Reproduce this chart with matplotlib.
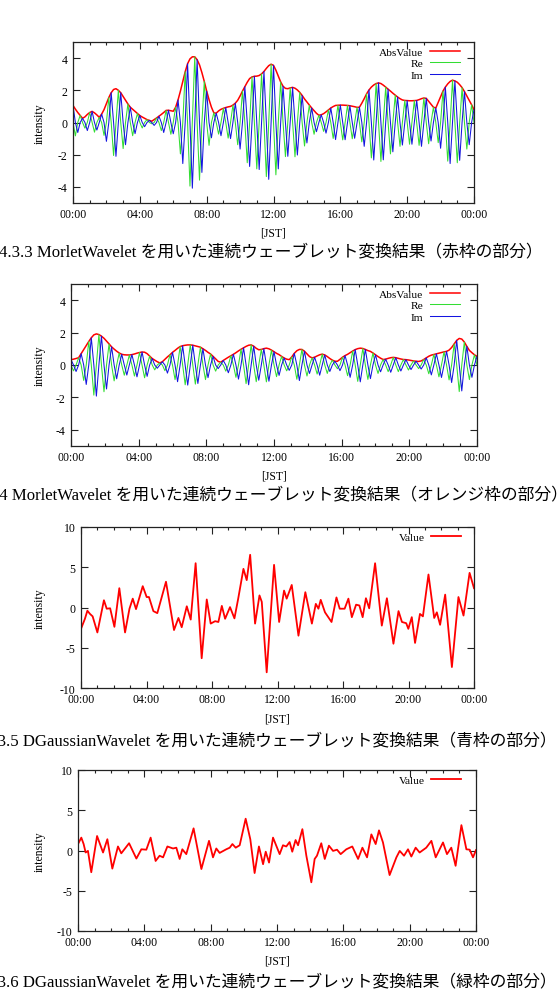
import matplotlib
matplotlib.use('Agg')
import matplotlib.pyplot as plt
import numpy as np
from matplotlib.ticker import MultipleLocator

plt.rcParams['font.family'] = ['Liberation Serif', 'Noto Sans CJK JP']
plt.rcParams['axes.unicode_minus'] = False

hour_ticks = [0, 4, 8, 12, 16, 20, 24]
hour_labels = ['00:00', '04:00', '08:00', '12:00', '16:00', '20:00', '00:00']

# Morlet, red frame: Im extrema every half period, Re extrema in between
m1_im = [1.06, -0.62, 0.26, -0.5, 0.69, -0.47, 0.52, -1.17, 1.85, -2.1, 1.85, -1.38, 0.95,
         -0.69, 0.43, -0.26, 0.13, -0.18, 0.39, -0.62, 0.76, -0.7, 1.4, -2.55, 3.65, -4.08,
         3.9, -3.1, 1.95, -0.95, 0.58, -0.82, 0.93, -1.0, 1.2, -1.65, 2.22, -2.73, 2.87,
         -2.92, 3.17, -3.53, 3.55, -2.88, 2.25, -2.1, 2.18, -2.02, 1.68, -1.27, 0.9, -0.57,
         0.48, -0.66, 0.9, -1.06, 1.08, -1.07, 1.04, -0.98, 0.95, -1.48, 2.02, -2.33, 2.46,
         -2.32, 2.07, -1.82, 1.58, -1.4, 1.36, -1.35, 1.37, -1.48, 1.5, -1.15, 0.9, -1.6,
         2.2, -2.55, 2.58, -2.35, 1.92, -1.38, 0.8]
m1_re = [-0.83, 0.44, -0.35, 0.62, -0.6, 0.32, -0.8, 1.55, -2.05, 2.0, -1.62, 1.15, -0.82,
         0.56, -0.34, 0.18, -0.08, 0.28, -0.5, 0.75, -0.73, 0.95, -1.95, 3.15, -3.95, 4.08,
         -3.58, 2.55, -1.42, 0.6, -0.72, 0.88, -0.97, 1.08, -1.38, 1.95, -2.5, 2.83, -2.88,
         3.02, -3.36, 3.62, -3.25, 2.52, -2.12, 2.15, -2.13, 1.87, -1.46, 1.07, -0.73, 0.45,
         -0.55, 0.78, -0.99, 1.07, -1.08, 1.06, -1.01, 0.94, -1.2, 1.78, -2.2, 2.42, -2.42,
         2.2, -1.95, 1.7, -1.48, 1.37, -1.35, 1.36, -1.42, 1.52, -1.32, 0.95, -1.25, 1.95,
         -2.4, 2.63, -2.5, 2.17, -1.65, 1.1]

# Morlet, orange frame
m2_im = [0.33, -0.4, 0.7, -1.2, 1.68, -1.92, 1.78, -1.48, 1.12, -0.85, 0.66, -0.62, 0.64,
         -0.73, 0.8, -0.7, 0.4, -0.2, 0.2, -0.5, 0.78, -1.03, 1.19, -1.24, 1.22, -1.14, 1.0,
         -0.78, 0.53, -0.22, 0.28, -0.48, 0.66, -0.87, 1.06, -1.22, 1.16, -0.94, 1.01, -1.0,
         0.82, -0.64, 0.43, -0.33, 0.72, -0.96, 0.85, -0.52, 0.48, -0.63, 0.62, -0.4, 0.23,
         -0.35, 0.58, -0.76, 0.95, -1.04, 0.96, -0.84, 0.63, -0.42, 0.36, -0.45, 0.45, -0.37,
         0.33, -0.28, 0.23, -0.25, 0.44, -0.61, 0.69, -0.77, 0.84, -1.08, 1.52, -1.6, 1.15,
         -0.76, 0.53]
m2_re = [-0.36, 0.45, -0.95, 1.45, -1.86, 1.88, -1.65, 1.3, -0.98, 0.74, -0.63, 0.62, -0.68,
         0.77, -0.79, 0.55, -0.3, 0.13, -0.35, 0.63, -0.9, 1.14, -1.22, 1.24, -1.18, 1.1, -0.9,
         0.68, -0.38, 0.17, -0.38, 0.57, -0.76, 0.97, -1.15, 1.24, -1.03, 0.96, -1.04, 0.92,
         -0.72, 0.53, -0.36, 0.5, -0.88, 0.96, -0.68, 0.44, -0.56, 0.67, -0.52, 0.3, -0.23,
         0.48, -0.66, 0.86, -1.01, 1.02, -0.89, 0.74, -0.52, 0.34, -0.41, 0.47, -0.41, 0.34,
         -0.31, 0.25, -0.22, 0.34, -0.54, 0.65, -0.73, 0.81, -0.92, 1.3, -1.64, 1.42, -0.9,
         0.63]

# DGaussian, blue frame
t3 = [0.0, 0.24, 0.39, 0.55, 0.71, 1.0, 1.4, 1.57, 1.78, 2.04, 2.34, 2.69, 2.96, 3.16, 3.36,
      3.77, 4.01, 4.15, 4.42, 4.66, 5.19, 5.68, 5.95, 6.15, 6.46, 6.7, 7.0, 7.37, 7.68, 7.92,
      8.19, 8.39, 8.6, 8.8, 9.1, 9.37, 9.6, 9.92, 10.12, 10.33, 10.63, 10.9, 11.04, 11.34,
      11.79, 12.1, 12.4, 12.56, 12.87, 13.28, 13.7, 14.1, 14.34, 14.5, 14.64, 14.9, 15.3,
      15.6, 15.8, 16.1, 16.33, 16.54, 16.8, 17.0, 17.2, 17.4, 17.6, 17.96, 18.37, 18.68,
      19.08, 19.39, 19.6, 19.86, 19.99, 20.2, 20.4, 20.7, 20.88, 21.22, 21.57, 21.73, 21.93,
      22.24, 22.65, 23.05, 23.36, 23.73, 24.0]
v3 = [-2.65, -1.4, -0.4, -0.8, -1.1, -3.1, 0.9, -0.15, -0.1, -2.4, 2.4, -3.1, -0.15, 1.1,
      -0.2, 2.65, 1.3, 1.3, -0.45, -0.7, 3.2, -2.8, -1.3, -2.45, 0.15, -1.5, 5.5, -6.3, 1.0,
      -2.0, -1.7, -1.8, 0.2, -1.4, 0.05, -1.35, 1.1, 4.8, 3.4, 6.55, -2.0, 1.5, 0.7, -8.05,
      5.3, -1.8, 2.1, 1.1, 2.8, -3.5, 1.9, -2.0, 0.45, -0.15, 0.95, -0.6, -1.8, 1.25, -0.15,
      -0.15, 1.1, -1.2, 0.35, 0.25, -1.2, 1.15, -0.1, 5.5, -2.25, 1.15, -4.5, -0.45, -1.8,
      -1.95, -2.65, -1.2, -4.4, -0.8, -1.1, 4.1, -1.3, -0.6, -2.15, 1.6, -7.4, 1.3, -1.0,
      4.3, 2.4]

# DGaussian, green frame
t4 = [0.0, 0.2, 0.34, 0.46, 0.6, 0.8, 1.15, 1.51, 1.77, 2.07, 2.41, 2.61, 3.08, 3.52, 3.82,
      4.12, 4.38, 4.68, 4.92, 5.13, 5.39, 5.73, 5.93, 6.13, 6.29, 6.53, 6.97, 7.44, 7.9,
      8.14, 8.34, 8.54, 8.94, 9.15, 9.31, 9.51, 9.75, 10.11, 10.39, 10.65, 10.91, 11.16,
      11.32, 11.52, 11.76, 12.16, 12.36, 12.56, 12.76, 12.92, 13.12, 13.27, 13.53, 13.77,
      14.07, 14.27, 14.41, 14.67, 14.88, 15.13, 15.38, 15.62, 15.84, 16.18, 16.54, 16.89,
      17.15, 17.43, 17.69, 17.95, 18.15, 18.39, 18.79, 19.2, 19.4, 19.66, 19.9, 20.1, 20.36,
      20.6, 21.0, 21.31, 21.57, 22.01, 22.25, 22.51, 22.77, 23.12, 23.42, 23.62, 23.82, 24.0]
v4 = [0.8, 1.6, 0.8, -0.25, -0.05, -2.7, 1.8, -0.25, 1.4, -2.25, 0.5, -0.35, 0.9, -1.0, 0.15,
      0.1, 1.6, -1.3, -0.65, -0.85, 0.5, 0.25, 0.35, -1.05, 0.15, -0.45, 2.75, -2.3, 1.2,
      -0.85, 0.25, -0.3, 0.15, 0.35, 0.8, 0.35, 0.65, 3.95, 1.4, -2.8, 0.5, -1.7, -0.15,
      -1.5, 1.6, -0.45, 0.65, 0.5, 1.05, -0.15, 1.3, 0.65, 2.65, -0.65, -3.95, -1.05, -0.65,
      0.9, -1.05, 0.6, -0.05, 0.1, -0.45, 0.15, 0.5, -1.05, 0.35, -0.85, 2.0, 0.8, 2.5, 1.0,
      -3.05, -0.85, -0.05, -0.65, 0.15, -0.75, 0.35, -0.25, 0.35, 1.2, -0.85, 1.0, -0.45,
      0.35, -1.9, 3.15, 0.15, 0.1, -0.85, 0.05]

captions = [
    '4.3.3 MorletWavelet を用いた連続ウェーブレット変換結果（赤枠の部分）',
    '4.3.4 MorletWavelet を用いた連続ウェーブレット変換結果（オレンジ枠の部分）',
    '4.3.5 DGaussianWavelet を用いた連続ウェーブレット変換結果（青枠の部分）',
    '4.3.6 DGaussianWavelet を用いた連続ウェーブレット変換結果（緑枠の部分）',
]

W, H = 559, 1003
fig = plt.figure(figsize=(W / 100, H / 100), dpi=100)
RED, GREEN, BLUE = '#ff0000', '#33dd33', '#1414e0'


def px_axes(l, t, r, b):
    return fig.add_axes([l / W, 1 - b / H, (r - l) / W, (b - t) / H])


def quarter(im_ext, re_ext):
    # Re is zero where Im peaks and vice versa
    n = len(im_ext) + len(re_ext)
    t = np.linspace(0, 24, n)
    im = np.zeros(n)
    re = np.zeros(n)
    ab = np.zeros(n)
    im[0::2] = im_ext
    re[1::2] = re_ext
    ab[0::2] = np.abs(im_ext)
    ab[1::2] = np.abs(re_ext)
    return t, re, im, ab


def style(ax, ylim, yt, ylab_px):
    ax.set_xlim(0, 24)
    ax.set_ylim(*ylim)
    ax.set_xticks(hour_ticks)
    ax.set_xticklabels(hour_labels)
    ax.xaxis.set_minor_locator(MultipleLocator(1))
    ax.set_yticks(yt)
    ax.set_yticklabels([str(v) for v in yt])
    ax.tick_params(which='both', direction='in', top=True, right=True,
                   labelsize=8.5, width=0.8, color='#222222')
    ax.tick_params(which='major', length=5)
    ax.tick_params(which='minor', length=2.5)
    ax.tick_params(axis='x', pad=3.5)
    ax.tick_params(axis='y', pad=4)
    for s in ax.spines.values():
        s.set_linewidth(0.9)
        s.set_color('#222222')
    pos = ax.get_position()
    fig.text(ylab_px / W, pos.y0 + pos.height / 2, 'intensity', rotation=90,
             ha='center', va='center', fontsize=8.5)
    fig.text(pos.x0 + pos.width / 2, pos.y0 - 30 / H, '[JST]',
             ha='center', va='center', fontsize=8.5)


def legend(ax, anchor):
    ax.legend(loc='upper right', bbox_to_anchor=anchor, frameon=False, markerfirst=False,
              fontsize=8.2, handlelength=2.6, handletextpad=0.6, labelspacing=0.12,
              borderpad=0, borderaxespad=0)


# panels 1 and 2
for (l, t, r, b), im_ext, re_ext in [((73, 43, 474, 204), m1_im, m1_re),
                                     ((71, 285, 477, 447), m2_im, m2_re)]:
    ax = px_axes(l, t, r, b)
    tt, re, im, ab = quarter(im_ext, re_ext)
    ax.plot(tt, ab, color=RED, lw=1.1, label='AbsValue')
    ax.plot(tt, re, color=GREEN, lw=0.75, label='Re')
    ax.plot(tt, im, color=BLUE, lw=0.75, label='Im')
    style(ax, (-5, 5), [-4, -2, 0, 2, 4], 40)
    legend(ax, ((460 - l) / (r - l), 1 - 5 / (b - t)))

# panels 3 and 4
for (l, t, r, b), tv, vv in [((81, 528, 474, 689), t3, v3),
                             ((78, 771, 476, 932), t4, v4)]:
    ax = px_axes(l, t, r, b)
    ax.plot(tv, vv, color=RED, lw=1.3, label='Value')
    style(ax, (-10, 10), [-10, -5, 0, 5, 10], 40)
    legend(ax, ((461 - l) / (r - l), 1 - 5 / (b - t)))

cap_font = ['Liberation Serif', 'Noto Sans CJK JP']
for text, yc in zip(captions, [252, 495, 741, 982]):
    fig.text(271 / W, 1 - yc / H, text, ha='center', va='center', fontsize=12.1,
             family=cap_font)

fig.savefig('out.png', dpi=100)
